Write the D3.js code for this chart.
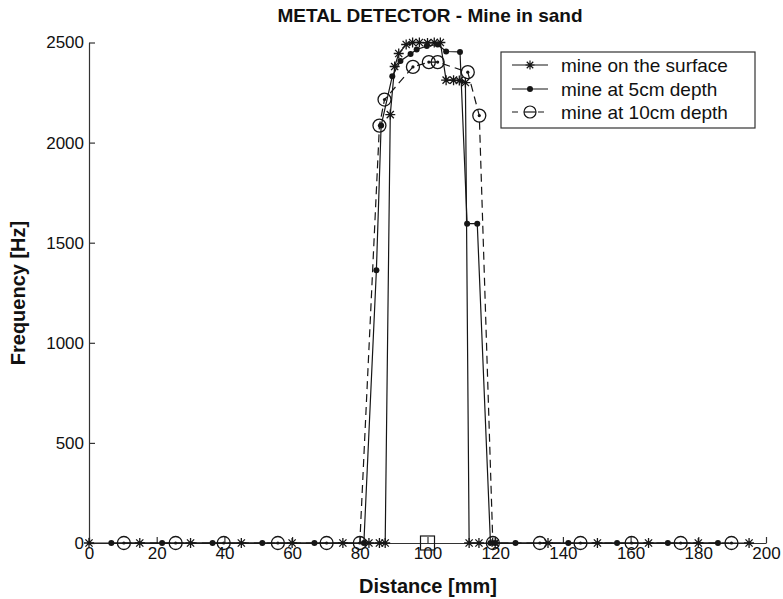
<!DOCTYPE html>
<html>
<head>
<meta charset="utf-8">
<script src="https://cdn.jsdelivr.net/npm/d3@7"></script>
<style>
body{margin:0;background:#fff}
text{font-family:Arial,"Liberation Sans",sans-serif;fill:#111}
</style>
</head>
<body>
<div id="chart"></div>
<script>
// 数据：距离(mm) / 频率(Hz)
const surfX = [0,15,30,45,60,75,82.7,85.8,87.5,89,90.3,91.5,93.7,95.6,97.6,100,102,103.8,105.5,107.7,109.4,111.2,112.3,115.2,120,135.6,150.2,165.3,180,195];
const surfY = [0,0,0,0,0,0,0,0,0,2140,2380,2445,2490,2500,2500,2498,2500,2500,2312,2312,2310,2300,0,0,0,0,0,0,0,0];

const dep5X = [6.6,21.6,36.5,51.2,66.6,81.2,84.9,86.3,89.6,92,95,96.8,99.8,103,105.5,109.6,111.7,114.7,118.6,120,126,141.6,156,171,185.8];
const dep5Y = [0,0,0,0,0,0,1362,2085,2332,2408,2443,2465,2482,2490,2455,2453,1595,1595,0,0,0,0,0,0,0];

const dep10X = [10.3,25.6,39.8,55.8,70.2,80,85.8,87.3,95.7,100.4,103,111.9,115.3,119.3,133.2,145.2,160.3,174.8,189.8];
const dep10Y = [0,0,0,0,0,0,2085,2215,2378,2402,2402,2352,2135,0,0,0,0,0,0];

// 中心标记
const markX = [100];
const markY = [0];

const xTicks = [0,20,40,60,80,100,120,140,160,180,200];
const yTicks = [0,500,1000,1500,2000,2500];
const legendNames = ['mine on the surface','mine at 5cm depth','mine at 10cm depth'];

const width = 783, height = 599;
const svg = d3.select('#chart').append('svg')
  .attr('width', width).attr('height', height);

const x = d3.scaleLinear().domain([0,200]).range([89,766]);
const y = d3.scaleLinear().domain([0,2500]).range([543,42.5]);

const ink = '#161616';

//坐标轴
const gx = svg.append('g').attr('transform','translate(0,543)')
  .call(d3.axisBottom(x).tickValues(xTicks).tickFormat(d3.format('d')).tickSizeInner(-6).tickSizeOuter(0).tickPadding(4));
const gy = svg.append('g').attr('transform','translate(89,0)')
  .call(d3.axisLeft(y).tickValues(yTicks).tickFormat(d3.format('d')).tickSizeInner(-6).tickSizeOuter(0).tickPadding(5));
[gx, gy].forEach(g=>{
  g.selectAll('path,line').attr('stroke','#333').attr('stroke-width',1.2);
  g.selectAll('text').attr('font-size',17).attr('font-family','Arial, Liberation Sans, sans-serif').attr('fill','#111');
});

//数据转换
const toPts = (xs, ys) => xs.map((v,i)=>({x:v, y:ys[i]}));
const surf = toPts(surfX, surfY);
const dep5 = toPts(dep5X, dep5Y);
const dep10 = toPts(dep10X, dep10Y);

const line = d3.line().x(d=>x(d.x)).y(d=>y(d.y));

svg.append('path').datum(dep10).attr('d', line)
  .attr('fill','none').attr('stroke',ink).attr('stroke-width',1.2).attr('stroke-dasharray','8,5');
svg.append('path').datum(dep5).attr('d', line)
  .attr('fill','none').attr('stroke',ink).attr('stroke-width',1.2);
svg.append('path').datum(surf).attr('d', line)
  .attr('fill','none').attr('stroke',ink).attr('stroke-width',1.2);

// 星号
const star = r => `M${-r},0H${r}M0,${-r}V${r}M${-r*0.72},${-r*0.72}L${r*0.72},${r*0.72}M${-r*0.72},${r*0.72}L${r*0.72},${-r*0.72}`;

svg.append('g').selectAll('path').data(surf).enter().append('path')
  .attr('transform', d=>`translate(${x(d.x)},${y(d.y)})`)
  .attr('d', star(5)).attr('stroke',ink).attr('stroke-width',1.3).attr('fill','none');

svg.append('g').selectAll('circle').data(dep5).enter().append('circle')
  .attr('cx', d=>x(d.x)).attr('cy', d=>y(d.y)).attr('r',3).attr('fill',ink);

const c10 = svg.append('g').selectAll('g').data(dep10).enter().append('g')
  .attr('transform', d=>`translate(${x(d.x)},${y(d.y)})`);
c10.append('circle').attr('r',6.5).attr('fill','none').attr('stroke',ink).attr('stroke-width',1.3);
c10.append('circle').attr('r',1.6).attr('fill',ink);

svg.append('g').selectAll('rect').data(toPts(markX, markY)).enter().append('rect')
  .attr('x', d=>x(d.x)-7).attr('y', d=>y(d.y)-7).attr('width',14).attr('height',14)
  .attr('fill','none').attr('stroke',ink).attr('stroke-width',1.2);

// 标题
svg.append('text').attr('x',430).attr('y',22).attr('text-anchor','middle')
  .attr('font-size',19).attr('font-weight','bold').text('METAL DETECTOR - Mine in sand');
svg.append('text').attr('x',428).attr('y',593).attr('text-anchor','middle')
  .attr('font-size',20).attr('font-weight','bold').text('Distance [mm]');
svg.append('text').attr('transform','translate(25,293) rotate(-90)').attr('text-anchor','middle')
  .attr('font-size',20).attr('font-weight','bold').text('Frequency [Hz]');

// 图例
const lg = svg.append('g').attr('transform','translate(501,52)');
lg.append('rect').attr('width',254).attr('height',76).attr('fill','#fff').attr('stroke','#333').attr('stroke-width',1.2);
const rows = [13,37,60];
legendNames.forEach((name,i)=>{
  const r = lg.append('g').attr('transform',`translate(0,${rows[i]})`);
  r.append('line').attr('x1',11).attr('x2',47).attr('stroke',ink).attr('stroke-width',1.2)
    .attr('stroke-dasharray', i==2 ? '6,7' : null);
  if(i==0) r.append('path').attr('transform','translate(29,0)').attr('d',star(4.5)).attr('stroke',ink).attr('stroke-width',1.2);
  if(i==1) r.append('circle').attr('cx',29).attr('r',3).attr('fill',ink);
  if(i==2) r.append('circle').attr('cx',29).attr('r',6).attr('fill','#fff').attr('stroke',ink).attr('stroke-width',1.2);
  if(i==2) r.append('line').attr('x1',23).attr('x2',35).attr('stroke',ink).attr('stroke-width',1.2);
  r.append('text').attr('x',60).attr('y',7).attr('font-size',19).text(name);
});
</script>
</body>
</html>
